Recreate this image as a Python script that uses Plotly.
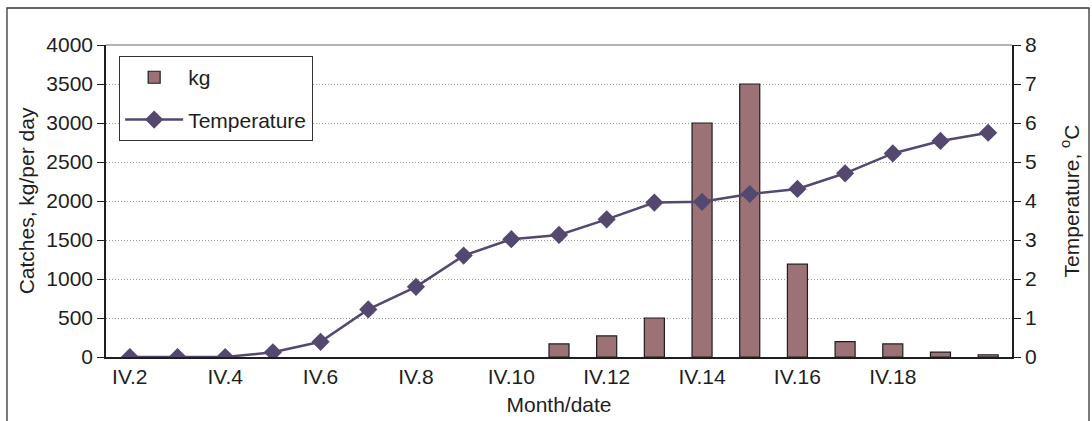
import plotly.graph_objects as go

dates = ["IV.2", "IV.3", "IV.4", "IV.5", "IV.6", "IV.7", "IV.8", "IV.9", "IV.10", "IV.11",
         "IV.12", "IV.13", "IV.14", "IV.15", "IV.16", "IV.17", "IV.18", "IV.19", "IV.20"]
catches_kg = [0, 0, 0, 0, 0, 0, 0, 0, 0, 167, 271, 500, 3000, 3500, 1190, 196, 167, 62, 29]
temperature = [0, 0, 0, 0.12, 0.39, 1.22, 1.8, 2.6, 3.02, 3.13, 3.53, 3.96, 3.98, 4.18,
               4.31, 4.71, 5.22, 5.54, 5.75]
label_dates = dates[:-1:2]

FONT = "Liberation Sans, Arial, sans-serif"
INK = "#1e1e1e"
BAR = "#9c7276"
LINE = "#544870"
FS = 21

fig = go.Figure()
fig.add_trace(go.Bar(
    x=dates, y=[v if v > 0 else None for v in catches_kg], name="kg",
    marker=dict(color=BAR, line=dict(color=INK, width=1.2)),
    legendgroup="a", yaxis="y",
))
fig.add_trace(go.Scatter(
    x=dates, y=temperature, name="Temperature", mode="lines+markers",
    line=dict(color=LINE, width=2.5),
    marker=dict(symbol="diamond", size=14, color=LINE),
    legendgroup="b", yaxis="y2",
))

n = len(dates)
tick_common = dict(range=[-0.5, n - 0.5], type="linear", tick0=-0.5, dtick=1,
                   showticklabels=False, showgrid=False, zeroline=False, showline=False,
                   ticklen=6, tickwidth=1.3, tickcolor=INK, overlaying="x", anchor="y")
fig.update_layout(
    width=1092, height=421,
    margin=dict(l=106, r=80, t=45, b=64, autoexpand=False),
    plot_bgcolor="white", paper_bgcolor="white",
    font=dict(family=FONT, size=FS, color=INK),
    bargap=0.58,
    showlegend=True,
    legend=dict(x=0.0143, y=0.965, xanchor="left", yanchor="top",
                bgcolor="white", bordercolor="#333", borderwidth=1.2,
                font=dict(size=FS, color=INK), traceorder="grouped",
                tracegroupgap=12, itemwidth=58, entrywidth=222, entrywidthmode="pixels"),
    xaxis=dict(type="category", categoryorder="array", categoryarray=dates,
               range=[-0.5, n - 0.5], tickmode="array", tickvals=label_dates,
               ticks="", showline=True, linecolor=INK, linewidth=1.5,
               showgrid=False, zeroline=False, automargin=False,
               title=dict(text="Month/date", standoff=10, font=dict(size=FS))),
    xaxis2=dict(ticks="outside", **tick_common),
    xaxis3=dict(ticks="inside", **tick_common),
    yaxis=dict(range=[0, 4000], dtick=500, tick0=0, ticks="outside", ticklen=7,
               tickwidth=1.3, tickcolor=INK, showline=True, linecolor=INK, linewidth=1.5,
               showgrid=True, gridcolor="#9a9a9a", griddash="1px,2px", gridwidth=1,
               zeroline=False, automargin=False,
               title=dict(text="Catches, kg/per day", standoff=6, font=dict(size=FS))),
    yaxis2=dict(range=[0, 8], dtick=1, tick0=0, ticks="outside", ticklen=7,
                tickwidth=1.3, tickcolor=INK, showline=True, linecolor=INK, linewidth=1.5,
                showgrid=False, zeroline=False, overlaying="y", side="right", anchor="x",
                automargin=False,
                title=dict(text="Temperature, <sup>o</sup>C", standoff=28, font=dict(size=FS))),
    yaxis3=dict(range=[0, 4000], dtick=500, tick0=0, ticks="inside", ticklen=7,
                tickwidth=1.3, tickcolor=INK, showticklabels=False, showline=False,
                showgrid=False, zeroline=False, overlaying="y", side="left", anchor="x"),
    yaxis4=dict(range=[0, 8], dtick=1, tick0=0, ticks="inside", ticklen=7,
                tickwidth=1.3, tickcolor=INK, showticklabels=False, showline=False,
                showgrid=False, zeroline=False, overlaying="y", side="right", anchor="x"),
    shapes=[
        dict(type="line", xref="paper", yref="paper", x0=0, x1=1, y0=1, y1=1,
             line=dict(color="#9a9a9a", width=1.5), layer="below"),
        dict(type="rect", xref="paper", yref="paper", x0=-0.1093, x1=1.085,
             y0=-0.25, y1=1.1186, line=dict(color="#333", width=1.3)),
    ],
)

fig.write_html("out.html", config={"displayModeBar": False},
               post_script="document.body.style.margin='0';")
